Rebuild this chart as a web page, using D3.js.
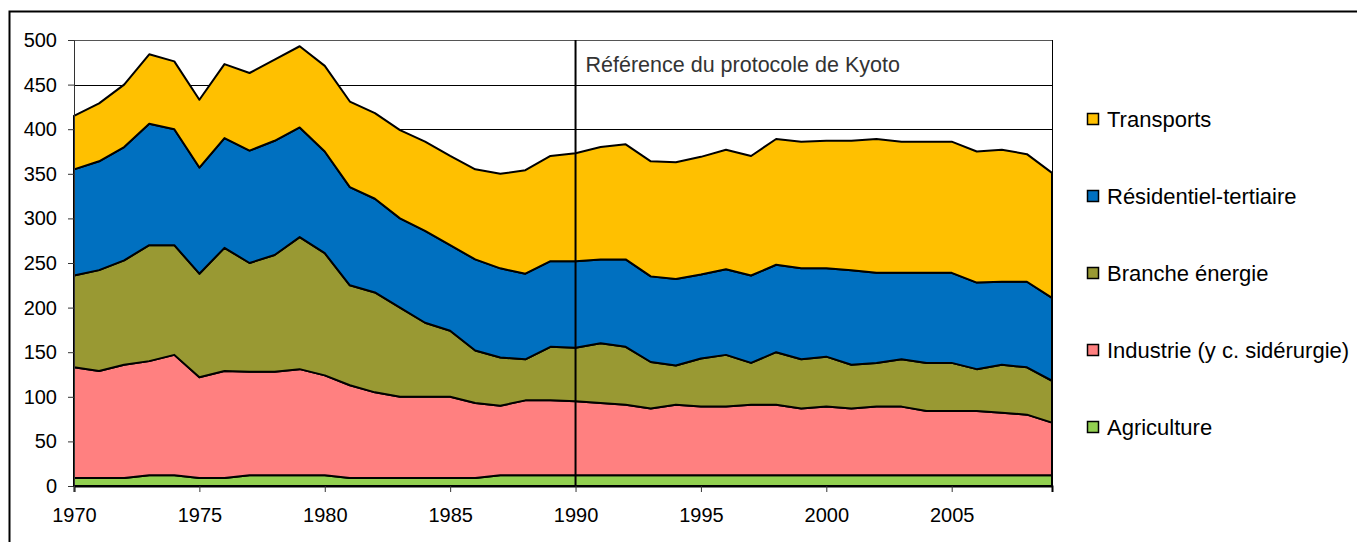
<!DOCTYPE html>
<html>
<head>
<meta charset="utf-8">
<script src="https://cdn.jsdelivr.net/npm/d3@7"></script>
<style>
  body { margin: 0; background: #fff; }
  svg { display: block; font-family: "Liberation Sans", Arial, sans-serif; }
</style>
</head>
<body>
<div id="chart"></div>
<script>
// data (Mt CO2 by sector)
const years = d3.range(1970, 2010);
const agriculture = [9,9,9,12,12,9,9,12,12,12, 12,9,9,9,9,9,9,12,12,12, 12,12,12,12,12,12,12,12,12,12, 12,12,12,12,12,12,12,12,12,12];
const industrie = [124,120,127,128,135,113,120,116,116,119, 112,104,96,91,91,91,84,78,84,84, 83,81,79,75,79,77,77,79,79,75, 77,75,77,77,72,72,72,70,68,59];
const branche = [103,113,117,130,123,116,138,122,131,148, 137,112,112,100,83,74,59,54,46,60, 60,67,65,52,44,54,58,47,59,55, 56,49,49,53,54,54,47,54,53,47];
const residentiel = [119,122,127,136,130,119,123,126,128,123, 114,110,105,100,103,96,102,100,96,96, 97,94,98,96,97,94,96,98,98,102, 99,106,101,97,101,101,97,93,96,93];
const transports = [60,65,70,78,76,76,83,87,91,91, 96,96,96,99,100,100,101,106,116,118, 121,126,129,129,131,132,134,134,141,142, 143,145,150,147,147,147,147,148,143,140];
const yTicks = [0,50,100,150,200,250,300,350,400,450,500];
const xTicks = [1970,1975,1980,1985,1990,1995,2000,2005];
const kyotoYear = 1990;
const kyotoLabel = "Référence du protocole de Kyoto";

const series = [
  {key: "agriculture", name: "Agriculture", color: "#92D050", values: agriculture},
  {key: "industrie", name: "Industrie (y c. sidérurgie)", color: "#FF8080", values: industrie},
  {key: "branche", name: "Branche énergie", color: "#999933", values: branche},
  {key: "residentiel", name: "Résidentiel-tertiaire", color: "#0070C0", values: residentiel},
  {key: "transports", name: "Transports", color: "#FFC000", values: transports}
];

const table = years.map((yr, i) => {
  const row = {year: yr};
  series.forEach(s => row[s.key] = s.values[i]);
  return row;
});

const W = 1357, H = 542;
const margin = {top: 40, left: 74};
const plotW = 978, plotH = 446;

const svg = d3.select("#chart").append("svg")
  .attr("width", W)
  .attr("height", H);

// outer frame
svg.append("rect")
  .attr("x", 9.5).attr("y", 11.5)
  .attr("width", 1400).attr("height", 600)
  .attr("fill", "none").attr("stroke", "#000").attr("stroke-width", 2);

const g = svg.append("g").attr("transform", "translate(" + margin.left + "," + margin.top + ")");

const x = d3.scaleLinear().domain([1970, 2009]).range([0, plotW]);
const y = d3.scaleLinear().domain([0, 500]).range([plotH, 0]);

// gridlines
g.append("g")
  .selectAll("line")
  .data(yTicks.filter(d => d > 0))
  .enter().append("line")
  .attr("x1", 0).attr("x2", plotW)
  .attr("y1", d => Math.round(y(d)) + 0.5).attr("y2", d => Math.round(y(d)) + 0.5)
  .attr("stroke", d => d === 500 ? "#555" : "#000").attr("stroke-width", 1);

// plot right border
g.append("line")
  .attr("x1", plotW + 0.5).attr("x2", plotW + 0.5)
  .attr("y1", 0).attr("y2", plotH)
  .attr("stroke", "#000").attr("stroke-width", 1);

// stacked areas
const stack = d3.stack().keys(series.map(s => s.key));
const layers = stack(table);

const area = d3.area()
  .x(d => x(d.data.year))
  .y0(d => y(d[0]))
  .y1(d => y(d[1]));

g.selectAll(".layer")
  .data(layers)
  .enter().append("path")
  .attr("class", "layer")
  .attr("d", area)
  .attr("fill", (d, i) => series[i].color)
  .attr("stroke", "#000")
  .attr("stroke-width", 2)
  .attr("stroke-linejoin", "round");

// y axis
const yAxis = g.append("g")
  .call(d3.axisLeft(y).tickValues(yTicks).tickSize(6).tickPadding(11));
yAxis.select(".domain").attr("stroke", "#333");
yAxis.selectAll(".tick line").attr("stroke", "#333");
yAxis.selectAll("text").attr("font-size", 20).attr("fill", "#000")
  .attr("font-family", "'Liberation Sans', Arial, sans-serif");

// x axis
const xAxis = g.append("g")
  .attr("transform", "translate(0," + plotH + ")")
  .call(d3.axisBottom(x).tickValues(xTicks).tickFormat(d3.format("d")).tickSize(6).tickPadding(16));
xAxis.select(".domain").attr("stroke", "#000").attr("stroke-width", 2);
xAxis.selectAll(".tick line").attr("stroke", "#333");
xAxis.selectAll("text").attr("font-size", 20).attr("fill", "#000")
  .attr("font-family", "'Liberation Sans', Arial, sans-serif");

// Kyoto reference line
g.append("line")
  .attr("x1", x(kyotoYear)).attr("x2", x(kyotoYear))
  .attr("y1", 0).attr("y2", plotH)
  .attr("stroke", "#000").attr("stroke-width", 2);

g.append("text")
  .attr("x", x(kyotoYear) + 10)
  .attr("y", 24)
  .attr("dy", "0.35em")
  .attr("font-size", 21.5)
  .attr("fill", "#333")
  .text(kyotoLabel);

// legend
const legend = svg.append("g")
  .selectAll("g")
  .data(series.slice().reverse())
  .enter().append("g")
  .attr("transform", (d, i) => "translate(1087," + (119 + i * 77) + ")");

legend.append("rect")
  .attr("x", 0.5).attr("y", -5.5)
  .attr("width", 11).attr("height", 11)
  .attr("fill", d => d.color)
  .attr("stroke", "#000").attr("stroke-width", 1.5);

legend.append("text")
  .attr("x", 20)
  .attr("y", 0)
  .attr("dy", "0.35em")
  .attr("font-size", 22)
  .attr("fill", "#000")
  .text(d => d.name);
</script>
</body>
</html>
